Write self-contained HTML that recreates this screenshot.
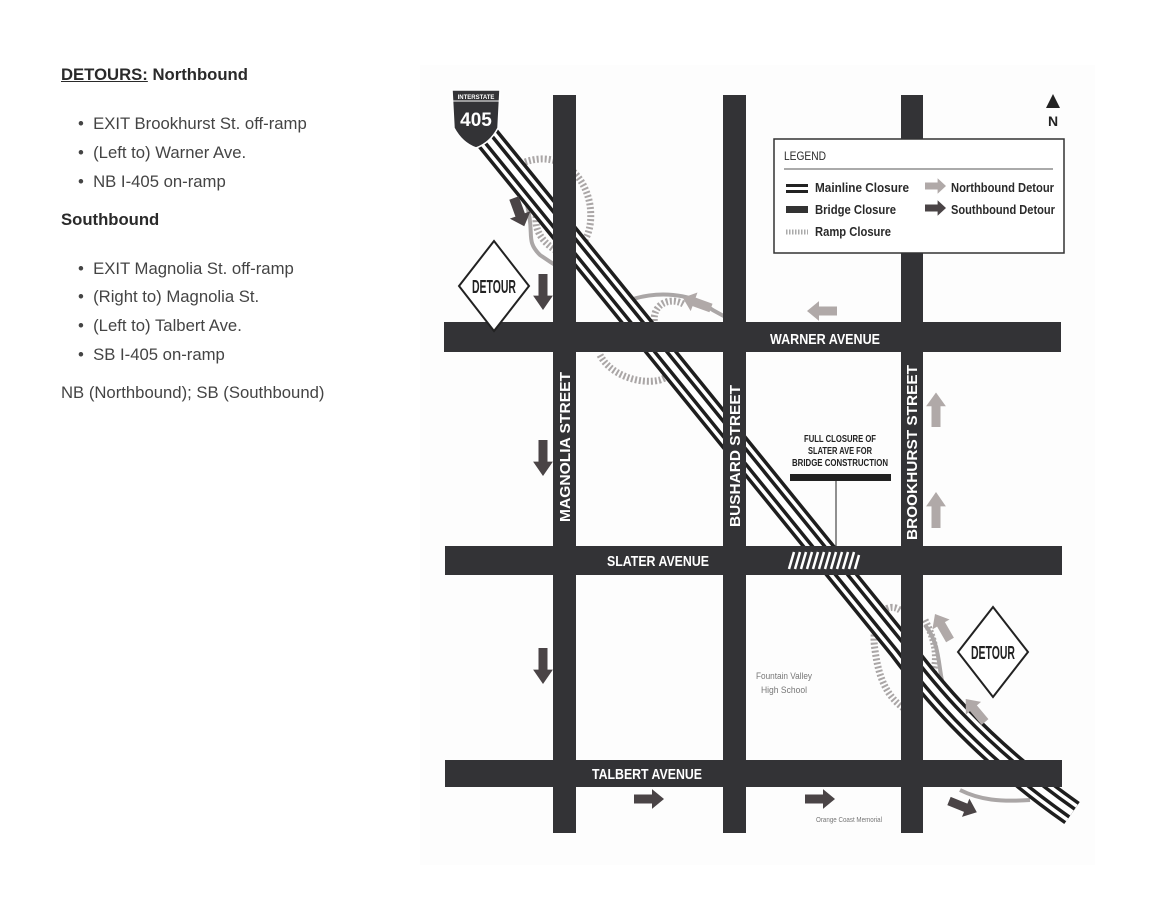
<!DOCTYPE html>
<html><head><meta charset="utf-8"><style>
body{margin:0;width:1152px;height:923px;background:#fff;position:relative;overflow:hidden;font-family:"Liberation Sans",sans-serif;color:#444}
.t{position:absolute;font-size:16.7px;white-space:nowrap}
.b{font-weight:bold;color:#2a2a2a}
</style></head><body>
<div class="t b" style="left:61px;top:65px"><span style="text-decoration:underline">DETOURS:</span> Northbound</div>
<div class="t" style="left:78px;top:114px">•&nbsp; EXIT Brookhurst St. off-ramp</div>
<div class="t" style="left:78px;top:143px">•&nbsp; (Left to) Warner Ave.</div>
<div class="t" style="left:78px;top:172px">•&nbsp; NB I-405 on-ramp</div>
<div class="t b" style="left:61px;top:210px">Southbound</div>
<div class="t" style="left:78px;top:259px">•&nbsp; EXIT Magnolia St. off-ramp</div>
<div class="t" style="left:78px;top:287px">•&nbsp; (Right to) Magnolia St.</div>
<div class="t" style="left:78px;top:316px">•&nbsp; (Left to) Talbert Ave.</div>
<div class="t" style="left:78px;top:345px">•&nbsp; SB I-405 on-ramp</div>
<div class="t" style="left:61px;top:383px">NB (Northbound); SB (Southbound)</div>

<svg width="1152" height="923" style="position:absolute;left:0;top:0" xmlns="http://www.w3.org/2000/svg" font-family="Liberation Sans, sans-serif">
<defs>
<polygon id="ar" points="0,-5 18,-5 18,-11 30,0 18,11 18,5 0,5"/>
<path id="fw" d="M485,135 L901,648 C925,680 975,745 1072,813"/>
</defs>
<rect x="420" y="65" width="675" height="800" fill="#fdfdfd"/>
<!-- ramp closures -->
<g fill="none" stroke="#aaa6a6" stroke-width="7" stroke-dasharray="2 2">
<path d="M525,162 C560,150 585,175 590,205 C595,240 575,260 555,250 C540,240 530,225 540,205"/>
<path d="M600,355 C610,375 640,385 660,380 C675,375 680,360 665,350"/>
<path d="M655,325 C650,305 670,295 685,305"/>
<path d="M900,610 C885,600 870,620 875,650 C880,690 895,705 915,715"/>
<path d="M925,620 C935,640 940,660 930,680"/>
</g>
<!-- detour curves -->
<g fill="none" stroke="#aaa6a6" stroke-width="4">
<path d="M527,205 C535,235 525,240 540,255 C550,262 555,265 560,268"/>
<path d="M630,300 C660,290 690,295 705,305 C715,312 730,320 740,322"/>
<path d="M925,625 C945,650 935,680 950,700 C960,712 970,720 975,725"/>
<path d="M960,790 C980,800 1000,802 1030,800"/>
</g>
<!-- freeway -->
<g fill="none">
<use href="#fw" stroke="#1e1e1e" stroke-width="27"/>
<use href="#fw" stroke="#fff" stroke-width="20"/>
<use href="#fw" stroke="#1e1e1e" stroke-width="13"/>
<use href="#fw" stroke="#fff" stroke-width="6"/>
</g>
<!-- roads -->
<g fill="#333336">
<rect x="553" y="95" width="23" height="738"/>
<rect x="723" y="95" width="23" height="738"/>
<rect x="901" y="95" width="22" height="738"/>
<rect x="444" y="322" width="617" height="30"/>
<rect x="445" y="546" width="617" height="29"/>
<rect x="445" y="760" width="617" height="27"/>
</g>
<!-- bridge closure -->
<g stroke="#fff" stroke-width="2.5">
<path d="M789,569 l5,-17 M795,569 l5,-17 M801,569 l5,-17 M807,569 l5,-17 M813,569 l5,-17 M819,569 l5,-17 M825,569 l5,-17 M831,569 l5,-17 M837,569 l5,-17 M843,569 l5,-17 M849,569 l5,-17 M855,569 l4,-14"/>
</g>
<!-- callout -->
<line x1="836" y1="480" x2="836" y2="546" stroke="#222" stroke-width="1"/>
<rect x="790" y="474" width="101" height="7" fill="#222"/>
<g font-weight="bold" font-size="10" fill="#222" text-anchor="middle">
<text x="840" y="442" textLength="72" lengthAdjust="spacingAndGlyphs">FULL CLOSURE OF</text>
<text x="840" y="454" textLength="64" lengthAdjust="spacingAndGlyphs">SLATER AVE FOR</text>
<text x="840" y="466" textLength="96" lengthAdjust="spacingAndGlyphs">BRIDGE CONSTRUCTION</text>
</g>
<!-- road names -->
<g fill="#fff" font-weight="bold" font-size="15">
<text x="770" y="344" textLength="110" lengthAdjust="spacingAndGlyphs">WARNER AVENUE</text>
<text x="607" y="566" textLength="102" lengthAdjust="spacingAndGlyphs">SLATER AVENUE</text>
<text x="592" y="779" textLength="110" lengthAdjust="spacingAndGlyphs">TALBERT AVENUE</text>
<text transform="translate(570,522) rotate(-90)" textLength="150" lengthAdjust="spacingAndGlyphs">MAGNOLIA STREET</text>
<text transform="translate(740,527) rotate(-90)" textLength="142" lengthAdjust="spacingAndGlyphs">BUSHARD STREET</text>
<text transform="translate(917,540) rotate(-90)" textLength="175" lengthAdjust="spacingAndGlyphs">BROOKHURST STREET</text>
</g>
<!-- SB arrows -->
<g fill="#4a4446">
<use href="#ar" transform="translate(514,198) rotate(70)"/>
<use href="#ar" transform="translate(543,274) rotate(90) scale(1.2,0.9)"/>
<use href="#ar" transform="translate(543,440) rotate(90) scale(1.2,0.9)"/>
<use href="#ar" transform="translate(543,648) rotate(90) scale(1.2,0.9)"/>
<use href="#ar" transform="translate(634,799) scale(1,0.9)"/>
<use href="#ar" transform="translate(805,799) scale(1,0.9)"/>
<use href="#ar" transform="translate(949,801) rotate(22) scale(1,0.9)"/>
</g>
<!-- NB arrows -->
<g fill="#b0a9a8">
<use href="#ar" transform="translate(711,308) rotate(-160) scale(1,0.9)"/>
<use href="#ar" transform="translate(837,311) rotate(180) scale(1,0.9)"/>
<use href="#ar" transform="translate(936,427) rotate(-90) scale(1.15,0.9)"/>
<use href="#ar" transform="translate(936,528) rotate(-90) scale(1.2,0.9)"/>
<use href="#ar" transform="translate(950,640) rotate(-120) scale(1,0.9)"/>
<use href="#ar" transform="translate(985,722) rotate(-130) scale(1,0.9)"/>
</g>
<!-- detour signs -->
<g>
<polygon points="494,241 529,286 494,331 459,286" fill="#fff" stroke="#222" stroke-width="2"/>
<text x="494" y="293" text-anchor="middle" font-size="18" font-weight="bold" fill="#222" textLength="44" lengthAdjust="spacingAndGlyphs">DETOUR</text>
<polygon points="993,607 1028,652 993,697 958,652" fill="#fff" stroke="#222" stroke-width="2"/>
<text x="993" y="659" text-anchor="middle" font-size="18" font-weight="bold" fill="#222" textLength="44" lengthAdjust="spacingAndGlyphs">DETOUR</text>
</g>
<!-- 405 shield -->
<path d="M452,90 L500,90 L498,128 Q490,143 476,148 Q462,143 454,128 Z" fill="#333336" stroke="#fff" stroke-width="1.5"/>
<line x1="453" y1="101" x2="499" y2="101" stroke="#fff" stroke-width="1"/>
<text x="476" y="99" text-anchor="middle" font-size="6" fill="#fff" font-weight="bold">INTERSTATE</text>
<text x="476" y="126" text-anchor="middle" font-size="19" fill="#fff" font-weight="bold">405</text>
<!-- north -->
<polygon points="1053,94 1060,108 1046,108" fill="#222"/>
<text x="1053" y="126" text-anchor="middle" font-size="14" font-weight="bold" fill="#222">N</text>
<!-- legend -->
<rect x="774" y="139" width="290" height="114" fill="#fff" stroke="#333" stroke-width="1.5"/>
<line x1="784" y1="169" x2="1053" y2="169" stroke="#555" stroke-width="1"/>
<g font-size="13" font-weight="bold" fill="#2a2a2a">
<text x="784" y="160" font-weight="normal" font-size="12" textLength="42" lengthAdjust="spacingAndGlyphs">LEGEND</text>
<text x="815" y="192" textLength="94" lengthAdjust="spacingAndGlyphs">Mainline Closure</text>
<text x="815" y="214" textLength="81" lengthAdjust="spacingAndGlyphs">Bridge Closure</text>
<text x="815" y="236" textLength="76" lengthAdjust="spacingAndGlyphs">Ramp Closure</text>
<text x="951" y="192" textLength="103" lengthAdjust="spacingAndGlyphs">Northbound Detour</text>
<text x="951" y="214" textLength="104" lengthAdjust="spacingAndGlyphs">Southbound Detour</text>
</g>
<rect x="786" y="184" width="22" height="3" fill="#222"/><rect x="786" y="190" width="22" height="3" fill="#222"/>
<rect x="786" y="206" width="22" height="7" fill="#333"/>
<line x1="786" y1="232" x2="808" y2="232" stroke="#aaa" stroke-width="5" stroke-dasharray="1.5 1.5"/>
<use href="#ar" fill="#b0a9a8" transform="translate(925,186) scale(0.7,0.7)"/>
<use href="#ar" fill="#4a4446" transform="translate(925,208) scale(0.7,0.7)"/>
<!-- labels -->
<g fill="#777" font-size="9" text-anchor="middle">
<text x="784" y="679" textLength="56" lengthAdjust="spacingAndGlyphs">Fountain Valley</text>
<text x="784" y="693" textLength="46" lengthAdjust="spacingAndGlyphs">High School</text>
<text x="849" y="822" font-size="7" textLength="66" lengthAdjust="spacingAndGlyphs">Orange Coast Memorial</text>
</g>
</svg>
</body></html>
